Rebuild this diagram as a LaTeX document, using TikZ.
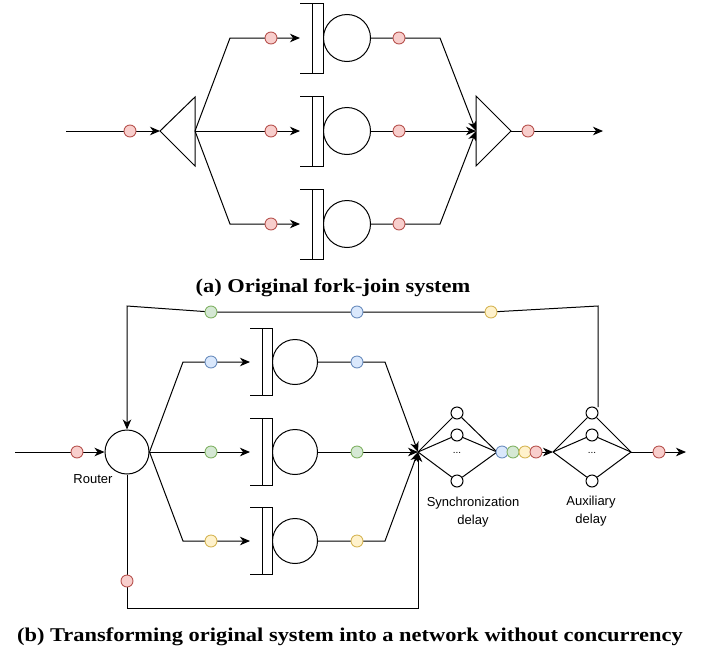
\documentclass[tikz,border=0pt]{standalone}
\usepackage{fontspec}
\setmainfont{Liberation Serif}
\newfontfamily\capfont[FakeStretch=1.15]{Liberation Serif}
\newfontfamily\labelfont{Liberation Sans}
\usetikzlibrary{arrows.meta}
\definecolor{redF}{HTML}{F8CECC}\definecolor{redD}{HTML}{B85450}
\definecolor{blueF}{HTML}{DAE8FC}\definecolor{blueD}{HTML}{6C8EBF}
\definecolor{greenF}{HTML}{D5E8D4}\definecolor{greenD}{HTML}{82B366}
\definecolor{yellowF}{HTML}{FFF2CC}\definecolor{yellowD}{HTML}{D6B656}
\begin{document}
\begin{tikzpicture}[x=1pt,y=-1pt,line width=1pt,
  >={Stealth[length=10pt,width=8.5pt,inset=3pt]},
  dot/.style={circle,draw=#1D,fill=#1F,line width=0.9pt,minimum size=12pt,inner sep=0pt},
  srv/.style={circle,draw,line width=1pt,inner sep=0pt,fill=white},
  small/.style={circle,draw,line width=1pt,inner sep=0pt,minimum size=12pt,fill=white},
  lbl/.style={font=\labelfont\fontsize{13}{18}\selectfont,align=center,inner sep=0pt},
  captxt/.style={font=\capfont\bfseries\fontsize{19.5}{22}\selectfont,inner sep=0pt},
  qbufA/.pic={\draw (-23,-35) -- (0,-35) -- (0,35) -- (-23,35); \draw (-11,-35) -- (-11,35);},
  qbufB/.pic={\draw (-22,-33.5) -- (0,-33.5) -- (0,33.5) -- (-22,33.5); \draw (-10,-33.5) -- (-10,33.5);}]
\useasboundingbox (0,0) rectangle (711,653);

% ---------------- (a) ----------------
\coordinate (aIn) at (66,131);
\coordinate (forkL) at (160,131);
\coordinate (forkR) at (195,131);
\coordinate (forkT) at (195,97);
\coordinate (forkB) at (195,166);
\draw (forkL) -- (forkT) -- (forkB) -- cycle;
\coordinate (joinL) at (476,131);
\coordinate (joinT) at (476,96);
\coordinate (joinB) at (476,166);
\coordinate (joinR) at (511,131);
\coordinate (aOut) at (603,131);
\foreach \n/\y in {1/38,2/131,3/224}{
  \node[srv,minimum size=47pt] (qa\n) at (347,\y) {};
  \pic at (323,\y) {qbufA};
  \coordinate (qa\n in) at (300,\y);
  \coordinate (fa\n) at (230,\y);
  \coordinate (ja\n) at (440,\y);
}
\draw[->] (aIn) -- (forkL);
\draw[->] (forkR) -- (fa1) -- (qa1in);
\draw[->] (forkR) -- (qa2in);
\draw[->] (forkR) -- (fa3) -- (qa3in);
\draw[->] (qa1) -- (ja1) -- (joinL);
\draw[->] (qa2) -- (joinL);
\draw[->] (qa3) -- (ja3) -- (joinL);
\draw[fill=white] (joinT) -- (joinR) -- (joinB) -- cycle;
\draw[->] (joinR) -- (aOut);
\node[dot=red] (ra0) at (130,131) {};
\foreach \n/\y in {1/38,2/131,3/224}{
  \node[dot=red] (rb\n) at (271,\y) {};
  \node[dot=red] (rc\n) at (399,\y) {};
}
\node[dot=red] (rd) at (528,131) {};
\node[captxt] (capA) at (333,288) {(a) Original fork-join system};

% ---------------- (b) ----------------
\node[srv,minimum size=44pt] (router) at (127,452) {};
\node[lbl] (routerlbl) at (93,479) {Router};
\coordinate (bIn) at (15,452);
\coordinate (fb1) at (183,362);
\coordinate (fb3) at (183,541);
\coordinate (syncL) at (418,452);
\coordinate (syncR) at (497,452);
\coordinate (auxL) at (553,452);
\coordinate (auxR) at (631,452);
\coordinate (bOut) at (686,452);
\coordinate (lb1) at (127,608);
\coordinate (lb2) at (418,608);
\coordinate (fbA) at (598,407);
\coordinate (fbB) at (598,306);
\coordinate (fbC) at (491,312);
\coordinate (fbD) at (211,312);
\coordinate (fbE) at (127,306);
\foreach \n/\y in {1/362,2/452,3/541}{
  \node[srv,minimum size=45pt] (qb\n) at (295,\y) {};
  \pic at (272,\y) {qbufB};
  \coordinate (qb\n in) at (250,\y);
  \coordinate (jb\n) at (385,\y);
}
\draw[->] (bIn) -- (router);
\draw[->] (router.east) -- (fb1) -- (qb1in);
\draw[->] (router.east) -- (qb2in);
\draw[->] (router.east) -- (fb3) -- (qb3in);
\draw[->] (qb1) -- (jb1) -- (syncL);
\draw[->] (qb2) -- (syncL);
\draw[->] (qb3) -- (jb3) -- (syncL);
\draw[->] (router) -- (lb1) -- (lb2) -- (syncL);
% synchronization delay
\node[small] (s1) at (457,413) {};
\node[small] (s2) at (457,435) {};
\node[small] (s3) at (457,481) {};
\node[font=\labelfont\fontsize{10}{12}\selectfont,inner sep=0pt] (sdots) at (457,453) {...};
\foreach \s in {s1,s2,s3}{\draw (syncL) -- (\s) -- (syncR);}
% auxiliary delay
\node[small] (x1) at (592,413) {};
\node[small] (x2) at (592,435) {};
\node[small] (x3) at (592,481) {};
\node[font=\labelfont\fontsize{10}{12}\selectfont,inner sep=0pt] (xdots) at (592,453) {...};
\foreach \s in {x1,x2,x3}{\draw (auxL) -- (\s) -- (auxR);}
\draw[->] (syncR) -- (auxL);
\draw[->] (auxR) -- (bOut);
\draw[->] (fbA) -- (fbB) -- (fbC) -- (fbD) -- (fbE) -- (router);
% tokens
\node[dot=red] (bt0) at (77,452) {};
\node[dot=blue] (bt1) at (211,362) {};
\node[dot=green] (bt2) at (211,452) {};
\node[dot=yellow] (bt3) at (211,541) {};
\node[dot=blue] (bt4) at (357,362) {};
\node[dot=green] (bt5) at (357,452) {};
\node[dot=yellow] (bt6) at (357,541) {};
\node[dot=red] (bt7) at (127,581) {};
\node[dot=blue] (st1) at (502,452) {};
\node[dot=green] (st2) at (513,452) {};
\node[dot=yellow] (st3) at (525,452) {};
\node[dot=red] (st4) at (536,452) {};
\node[dot=red] (bt8) at (659,452) {};
\node[dot=green] (ft1) at (fbD) {};
\node[dot=blue] (ft2) at (357,312) {};
\node[dot=yellow] (ft3) at (fbC) {};
\node[lbl] (synclbl) at (473,512) {Synchronization\\delay};
\node[lbl] (auxlbl) at (591,511) {Auxiliary\\delay};
\node[captxt] (capB) at (350,637) {(b) Transforming original system into a network without concurrency};
\end{tikzpicture}
\end{document}
